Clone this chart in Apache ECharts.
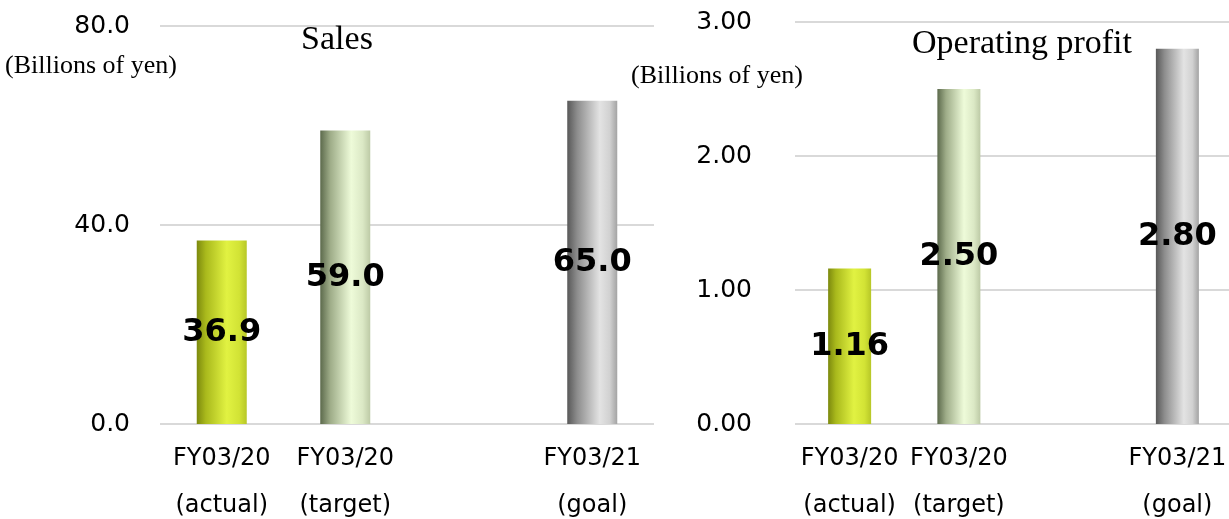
<!DOCTYPE html>
<html>
<head>
<meta charset="utf-8">
<script src="https://cdn.jsdelivr.net/npm/echarts@6/dist/echarts.min.js"></script>
<style>
  html, body { margin: 0; padding: 0; background: #fff; }
  #chart { width: 1229px; height: 519px; }
</style>
</head>
<body>
<div id="chart"></div>
<script>
// Category labels (the empty slot keeps the gap before the FY03/21 goal)
const categories = ['FY03/20\n(actual)', 'FY03/20\n(target)', '', 'FY03/21\n(goal)'];

// Sales, billions of yen
const salesValues = [36.9, 59.0, null, 65.0];
// Operating profit, billions of yen
const profitValues = [1.16, 2.50, null, 2.80];

// Axis ranges
const salesAxis = { min: 0, max: 80, interval: 40, digits: 1 };
const profitAxis = { min: 0, max: 3, interval: 1, digits: 2 };

const unitLabel = '(Billions of yen)';
const salesTitle = 'Sales';
const profitTitle = 'Operating profit';

// Cylinder-like horizontal shading for each bar kind
function shade(stops) {
  return new echarts.graphic.LinearGradient(0, 0, 1, 0,
    stops.map(([offset, color]) => ({ offset, color })));
}
const barShades = [
  shade([[0, '#7c890e'], [0.18, '#a9b91c'], [0.6, '#e1f242'], [0.85, '#d2e335'], [1, '#b7c727']]),
  shade([[0, '#5c6a4c'], [0.2, '#9eac88'], [0.62, '#eefbd9'], [0.85, '#dbe8c5'], [1, '#bdcaa6']]),
  null,
  shade([[0, '#585858'], [0.2, '#8d8d8d'], [0.65, '#e3e3e3'], [0.85, '#d1d1d1'], [1, '#a3a3a3']])
];

function barData(values) {
  return values.map((v, i) => v == null ? '-' : { value: v, itemStyle: { color: barShades[i] } });
}

const sansFont = '"DejaVu Sans", Verdana, sans-serif';
const serifFont = '"Liberation Serif", "Times New Roman", serif';
const gridLineColor = '#d9d9d9';

function xAxisFor(gridIndex) {
  return {
    type: 'category',
    gridIndex,
    data: categories,
    axisLine: { show: false },
    axisTick: { show: false },
    axisLabel: {
      interval: 0,
      margin: 11,
      fontFamily: sansFont,
      fontSize: 24,
      lineHeight: 47,
      color: '#000'
    }
  };
}

function yAxisFor(gridIndex, spec, margin) {
  return {
    type: 'value',
    gridIndex,
    min: spec.min,
    max: spec.max,
    interval: spec.interval,
    axisLine: { show: false },
    axisTick: { show: false },
    splitLine: { lineStyle: { color: gridLineColor, width: 2 } },
    axisLabel: {
      margin,
      fontFamily: sansFont,
      fontSize: 25,
      color: '#000',
      formatter: v => v.toFixed(spec.digits)
    }
  };
}

function barSeries(index, values, width, digits) {
  return {
    type: 'bar',
    xAxisIndex: index,
    yAxisIndex: index,
    barWidth: width,
    data: barData(values),
    label: {
      show: true,
      position: 'inside',
      fontFamily: sansFont,
      fontWeight: 'bold',
      fontSize: 32,
      color: '#000',
      formatter: p => p.value.toFixed(digits)
    }
  };
}

const chart = echarts.init(document.getElementById('chart'), null, { renderer: 'canvas' });

const titleStyle = { fontFamily: serifFont, fontWeight: 'normal', fontSize: 34, color: '#000' };
const unitStyle = { fontFamily: serifFont, fontWeight: 'normal', fontSize: 26, color: '#000' };

chart.setOption({
  backgroundColor: '#fff',
  animation: false,
  title: [
    { text: salesTitle, left: 332, top: 18, textAlign: 'center', textStyle: titleStyle },
    { text: profitTitle, left: 1017, top: 22, textAlign: 'center', textStyle: titleStyle },
    { text: unitLabel, left: 86, top: 48, textAlign: 'center', textStyle: unitStyle },
    { text: unitLabel, left: 712, top: 58, textAlign: 'center', textStyle: unitStyle }
  ],
  grid: [
    { left: 160, top: 26, width: 494, height: 398, outerBoundsMode: 'none' },
    { left: 795, top: 22, width: 437, height: 402, outerBoundsMode: 'none' }
  ],
  xAxis: [xAxisFor(0), xAxisFor(1)],
  yAxis: [yAxisFor(0, salesAxis, 30), yAxisFor(1, profitAxis, 43)],
  series: [
    barSeries(0, salesValues, 50, salesAxis.digits),
    barSeries(1, profitValues, 43, profitAxis.digits)
  ]
});
</script>
</body>
</html>
